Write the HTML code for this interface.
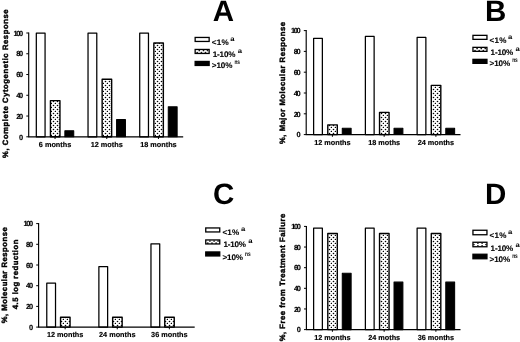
<!DOCTYPE html>
<html><head><meta charset="utf-8"><title>Figure</title>
<style>
html,body{margin:0;padding:0;background:#fff;}
body{width:520px;height:342px;overflow:hidden;}
svg{display:block;filter:grayscale(1);text-rendering:geometricPrecision;font-family:"Liberation Sans",sans-serif;font-weight:bold;fill:#000;}
</style></head><body>
<svg width="520" height="342" viewBox="0 0 520 342">
<defs>
<pattern id="dots" width="4" height="4" patternUnits="userSpaceOnUse">
<rect width="4" height="4" fill="#fff"/>
<circle cx="1.5" cy="1.5" r="0.8" fill="#000"/>
<circle cx="3.5" cy="3.5" r="0.8" fill="#000"/>
</pattern>
<pattern id="ldots" width="4" height="4" patternUnits="userSpaceOnUse">
<rect width="4" height="4" fill="#fff"/>
<circle cx="2" cy="2" r="0.9" fill="#777"/>
</pattern>
</defs>
<rect width="520" height="342" fill="#fff"/>
<rect x="36.32" y="33.08" width="8.75" height="103.72" fill="#fff" stroke="#000" stroke-width="1.25" stroke-linejoin="round"/>
<rect x="50.45" y="100.60" width="9.50" height="36.20" fill="url(#dots)" stroke="#000" stroke-width="1.4" stroke-linejoin="round"/>
<rect x="64.88" y="130.74" width="8.85" height="6.06" fill="#000" stroke="#000" stroke-width="1.05" stroke-linejoin="round"/>
<rect x="88.03" y="33.08" width="8.75" height="103.72" fill="#fff" stroke="#000" stroke-width="1.25" stroke-linejoin="round"/>
<rect x="102.15" y="79.32" width="9.50" height="57.48" fill="url(#dots)" stroke="#000" stroke-width="1.4" stroke-linejoin="round"/>
<rect x="116.58" y="119.63" width="8.85" height="17.17" fill="#000" stroke="#000" stroke-width="1.05" stroke-linejoin="round"/>
<rect x="139.72" y="33.08" width="8.75" height="103.72" fill="#fff" stroke="#000" stroke-width="1.25" stroke-linejoin="round"/>
<rect x="153.85" y="42.99" width="9.50" height="93.81" fill="url(#dots)" stroke="#000" stroke-width="1.4" stroke-linejoin="round"/>
<rect x="168.28" y="106.86" width="8.85" height="29.94" fill="#000" stroke="#000" stroke-width="1.05" stroke-linejoin="round"/>
<path d="M28.70 32.50V137.30M28.20 136.80H183.20" stroke="#000" stroke-width="1.15" fill="none"/>
<path d="M26.30 33.00H28.70" stroke="#000" stroke-width="1"/>
<text x="13.50" y="35.70" font-size="7.4" textLength="9.6" lengthAdjust="spacing" stroke="#000" stroke-width="0.15">100</text>
<path d="M26.30 53.76H28.70" stroke="#000" stroke-width="1"/>
<text x="16.20" y="56.46" font-size="7.4" textLength="6.9" lengthAdjust="spacing" stroke="#000" stroke-width="0.15">80</text>
<path d="M26.30 74.52H28.70" stroke="#000" stroke-width="1"/>
<text x="16.20" y="77.22" font-size="7.4" textLength="6.9" lengthAdjust="spacing" stroke="#000" stroke-width="0.15">60</text>
<path d="M26.30 95.28H28.70" stroke="#000" stroke-width="1"/>
<text x="16.20" y="97.98" font-size="7.4" textLength="6.9" lengthAdjust="spacing" stroke="#000" stroke-width="0.15">40</text>
<path d="M26.30 116.04H28.70" stroke="#000" stroke-width="1"/>
<text x="16.20" y="118.74" font-size="7.4" textLength="6.9" lengthAdjust="spacing" stroke="#000" stroke-width="0.15">20</text>
<path d="M26.30 136.80H28.70" stroke="#000" stroke-width="1"/>
<text x="19.00" y="139.50" font-size="7.4" textLength="4.1" lengthAdjust="spacing" stroke="#000" stroke-width="0.15">0</text>
<path d="M55.05 136.80V139.00" stroke="#000" stroke-width="1"/>
<text x="55.05" y="147.00" text-anchor="middle" font-size="7.3" stroke="#000" stroke-width="0.15">6 months</text>
<path d="M106.75 136.80V139.00" stroke="#000" stroke-width="1"/>
<text x="106.75" y="147.00" text-anchor="middle" font-size="7.3" stroke="#000" stroke-width="0.15">12 moths</text>
<path d="M158.45 136.80V139.00" stroke="#000" stroke-width="1"/>
<text x="158.45" y="147.00" text-anchor="middle" font-size="7.3" stroke="#000" stroke-width="0.15">18 months</text>
<text transform="translate(7.90 157.95) rotate(-90)" font-size="7.7" textLength="148.5" lengthAdjust="spacing" stroke="#000" stroke-width="0.4">%, Complete Cytogenetic Response</text>
<text x="223.45" y="21.2" font-size="29.5" text-anchor="middle">A</text>
<rect x="195.15" y="37.45" width="14.0" height="4.0" fill="#fff" stroke="#000" stroke-width="1.3"/>
<text x="211.80" y="45.00" font-size="8.1" textLength="16.8" lengthAdjust="spacing" stroke="#000" stroke-width="0.1">&lt;1%</text>
<text x="230.30" y="41.00" font-size="6.6" textLength="4.3" lengthAdjust="spacingAndGlyphs">a</text>
<rect x="195.15" y="49.45" width="14.0" height="4.0" fill="#fff" stroke="#000" stroke-width="1.3"/>
<circle cx="199.30" cy="50.50" r="0.85" fill="#111"/>
<circle cx="203.50" cy="50.50" r="0.85" fill="#111"/>
<circle cx="207.50" cy="50.50" r="0.85" fill="#111"/>
<circle cx="197.20" cy="52.70" r="0.85" fill="#111"/>
<circle cx="201.40" cy="52.70" r="0.85" fill="#111"/>
<circle cx="205.50" cy="52.70" r="0.85" fill="#111"/>
<text x="212.80" y="57.00" font-size="8.1" textLength="22.6" lengthAdjust="spacing" stroke="#000" stroke-width="0.1">1-10%</text>
<text x="237.70" y="53.00" font-size="6.6" textLength="4.3" lengthAdjust="spacingAndGlyphs">a</text>
<rect x="195.15" y="61.45" width="14.0" height="4.0" fill="#000" stroke="#000" stroke-width="1.3"/>
<text x="211.80" y="68.30" font-size="8.1" textLength="20.6" lengthAdjust="spacing" stroke="#000" stroke-width="0.1">&gt;10%</text>
<text x="234.40" y="64.30" font-size="6.6" textLength="5.6" lengthAdjust="spacingAndGlyphs">ns</text>
<rect x="313.62" y="38.45" width="8.75" height="96.14" fill="#fff" stroke="#000" stroke-width="1.25" stroke-linejoin="round"/>
<rect x="327.80" y="124.85" width="9.50" height="9.75" fill="url(#dots)" stroke="#000" stroke-width="1.4" stroke-linejoin="round"/>
<rect x="342.28" y="128.31" width="8.85" height="6.29" fill="#000" stroke="#000" stroke-width="1.05" stroke-linejoin="round"/>
<rect x="365.38" y="36.38" width="8.75" height="98.22" fill="#fff" stroke="#000" stroke-width="1.25" stroke-linejoin="round"/>
<rect x="379.55" y="112.37" width="9.50" height="22.23" fill="url(#dots)" stroke="#000" stroke-width="1.4" stroke-linejoin="round"/>
<rect x="394.03" y="128.31" width="8.85" height="6.29" fill="#000" stroke="#000" stroke-width="1.05" stroke-linejoin="round"/>
<rect x="417.12" y="37.41" width="8.75" height="97.19" fill="#fff" stroke="#000" stroke-width="1.25" stroke-linejoin="round"/>
<rect x="431.30" y="85.33" width="9.50" height="49.27" fill="url(#dots)" stroke="#000" stroke-width="1.4" stroke-linejoin="round"/>
<rect x="445.78" y="128.31" width="8.85" height="6.29" fill="#000" stroke="#000" stroke-width="1.05" stroke-linejoin="round"/>
<path d="M306.20 30.10V135.10M305.70 134.60H460.50" stroke="#000" stroke-width="1.15" fill="none"/>
<path d="M303.80 30.60H306.20" stroke="#000" stroke-width="1"/>
<text x="291.00" y="33.30" font-size="7.4" textLength="9.6" lengthAdjust="spacing" stroke="#000" stroke-width="0.15">100</text>
<path d="M303.80 51.40H306.20" stroke="#000" stroke-width="1"/>
<text x="293.70" y="54.10" font-size="7.4" textLength="6.9" lengthAdjust="spacing" stroke="#000" stroke-width="0.15">80</text>
<path d="M303.80 72.20H306.20" stroke="#000" stroke-width="1"/>
<text x="293.70" y="74.90" font-size="7.4" textLength="6.9" lengthAdjust="spacing" stroke="#000" stroke-width="0.15">60</text>
<path d="M303.80 93.00H306.20" stroke="#000" stroke-width="1"/>
<text x="293.70" y="95.70" font-size="7.4" textLength="6.9" lengthAdjust="spacing" stroke="#000" stroke-width="0.15">40</text>
<path d="M303.80 113.80H306.20" stroke="#000" stroke-width="1"/>
<text x="293.70" y="116.50" font-size="7.4" textLength="6.9" lengthAdjust="spacing" stroke="#000" stroke-width="0.15">20</text>
<path d="M303.80 134.60H306.20" stroke="#000" stroke-width="1"/>
<text x="296.50" y="137.30" font-size="7.4" textLength="4.1" lengthAdjust="spacing" stroke="#000" stroke-width="0.15">0</text>
<path d="M332.40 134.60V136.80" stroke="#000" stroke-width="1"/>
<text x="332.40" y="144.80" text-anchor="middle" font-size="7.3" stroke="#000" stroke-width="0.15">12 months</text>
<path d="M384.15 134.60V136.80" stroke="#000" stroke-width="1"/>
<text x="384.15" y="144.80" text-anchor="middle" font-size="7.3" stroke="#000" stroke-width="0.15">18 moths</text>
<path d="M435.90 134.60V136.80" stroke="#000" stroke-width="1"/>
<text x="435.90" y="144.80" text-anchor="middle" font-size="7.3" stroke="#000" stroke-width="0.15">24 months</text>
<text transform="translate(285.20 144.00) rotate(-90)" font-size="7.7" textLength="122" lengthAdjust="spacing" stroke="#000" stroke-width="0.4">%, Major Molecular Response</text>
<text x="495.7" y="21.2" font-size="29.5" text-anchor="middle">B</text>
<rect x="472.95" y="35.35" width="14.0" height="4.0" fill="#fff" stroke="#000" stroke-width="1.3"/>
<text x="489.60" y="42.60" font-size="8.1" textLength="16.8" lengthAdjust="spacing" stroke="#000" stroke-width="0.1">&lt;1%</text>
<text x="508.10" y="38.60" font-size="6.6" textLength="4.3" lengthAdjust="spacingAndGlyphs">a</text>
<rect x="472.95" y="47.35" width="14.0" height="4.0" fill="#fff" stroke="#000" stroke-width="1.3"/>
<circle cx="477.10" cy="48.40" r="0.85" fill="#111"/>
<circle cx="481.30" cy="48.40" r="0.85" fill="#111"/>
<circle cx="485.30" cy="48.40" r="0.85" fill="#111"/>
<circle cx="475.00" cy="50.60" r="0.85" fill="#111"/>
<circle cx="479.20" cy="50.60" r="0.85" fill="#111"/>
<circle cx="483.30" cy="50.60" r="0.85" fill="#111"/>
<text x="490.60" y="54.90" font-size="8.1" textLength="22.6" lengthAdjust="spacing" stroke="#000" stroke-width="0.1">1-10%</text>
<text x="515.50" y="50.90" font-size="6.6" textLength="4.3" lengthAdjust="spacingAndGlyphs">a</text>
<rect x="472.95" y="59.35" width="14.0" height="4.0" fill="#000" stroke="#000" stroke-width="1.3"/>
<text x="489.60" y="66.30" font-size="8.1" textLength="20.6" lengthAdjust="spacing" stroke="#000" stroke-width="0.1">&gt;10%</text>
<text x="512.20" y="62.30" font-size="6.6" textLength="5.6" lengthAdjust="spacingAndGlyphs">ns</text>
<rect x="46.77" y="283.17" width="8.75" height="43.93" fill="#fff" stroke="#000" stroke-width="1.25" stroke-linejoin="round"/>
<rect x="60.55" y="317.19" width="9.50" height="9.91" fill="url(#dots)" stroke="#000" stroke-width="1.4" stroke-linejoin="round"/>
<rect x="98.88" y="266.61" width="8.75" height="60.49" fill="#fff" stroke="#000" stroke-width="1.25" stroke-linejoin="round"/>
<rect x="112.65" y="317.19" width="9.50" height="9.91" fill="url(#dots)" stroke="#000" stroke-width="1.4" stroke-linejoin="round"/>
<rect x="150.97" y="243.84" width="8.75" height="83.26" fill="#fff" stroke="#000" stroke-width="1.25" stroke-linejoin="round"/>
<rect x="164.75" y="317.19" width="9.50" height="9.91" fill="url(#dots)" stroke="#000" stroke-width="1.4" stroke-linejoin="round"/>
<path d="M38.60 223.10V327.60M38.10 327.10H194.70" stroke="#000" stroke-width="1.15" fill="none"/>
<path d="M36.20 223.60H38.60" stroke="#000" stroke-width="1"/>
<text x="23.40" y="226.30" font-size="7.4" textLength="9.6" lengthAdjust="spacing" stroke="#000" stroke-width="0.15">100</text>
<path d="M36.20 244.30H38.60" stroke="#000" stroke-width="1"/>
<text x="26.10" y="247.00" font-size="7.4" textLength="6.9" lengthAdjust="spacing" stroke="#000" stroke-width="0.15">80</text>
<path d="M36.20 265.00H38.60" stroke="#000" stroke-width="1"/>
<text x="26.10" y="267.70" font-size="7.4" textLength="6.9" lengthAdjust="spacing" stroke="#000" stroke-width="0.15">60</text>
<path d="M36.20 285.70H38.60" stroke="#000" stroke-width="1"/>
<text x="26.10" y="288.40" font-size="7.4" textLength="6.9" lengthAdjust="spacing" stroke="#000" stroke-width="0.15">40</text>
<path d="M36.20 306.40H38.60" stroke="#000" stroke-width="1"/>
<text x="26.10" y="309.10" font-size="7.4" textLength="6.9" lengthAdjust="spacing" stroke="#000" stroke-width="0.15">20</text>
<path d="M36.20 327.10H38.60" stroke="#000" stroke-width="1"/>
<text x="28.90" y="329.80" font-size="7.4" textLength="4.1" lengthAdjust="spacing" stroke="#000" stroke-width="0.15">0</text>
<path d="M65.15 327.10V329.30" stroke="#000" stroke-width="1"/>
<text x="65.15" y="337.30" text-anchor="middle" font-size="7.3" stroke="#000" stroke-width="0.15">12 months</text>
<path d="M117.25 327.10V329.30" stroke="#000" stroke-width="1"/>
<text x="117.25" y="337.30" text-anchor="middle" font-size="7.3" stroke="#000" stroke-width="0.15">24 months</text>
<path d="M169.35 327.10V329.30" stroke="#000" stroke-width="1"/>
<text x="169.35" y="337.30" text-anchor="middle" font-size="7.3" stroke="#000" stroke-width="0.15">36 months</text>
<text transform="translate(7.10 323.30) rotate(-90)" font-size="7.7" textLength="96" lengthAdjust="spacing" stroke="#000" stroke-width="0.4">%, Molecular Response</text>
<text transform="translate(17.80 309.20) rotate(-90)" font-size="7.7" textLength="69.6" lengthAdjust="spacing" stroke="#000" stroke-width="0.4">4.5 log reduction</text>
<text x="223.7" y="203.6" font-size="29.5" text-anchor="middle">C</text>
<rect x="205.75" y="227.95" width="14.0" height="4.0" fill="#fff" stroke="#000" stroke-width="1.3"/>
<text x="222.40" y="235.40" font-size="8.1" textLength="16.8" lengthAdjust="spacing" stroke="#000" stroke-width="0.1">&lt;1%</text>
<text x="240.90" y="231.40" font-size="6.6" textLength="4.3" lengthAdjust="spacingAndGlyphs">a</text>
<rect x="205.75" y="239.95" width="14.0" height="4.0" fill="#fff" stroke="#000" stroke-width="1.3"/>
<circle cx="209.90" cy="241.00" r="0.85" fill="#111"/>
<circle cx="214.10" cy="241.00" r="0.85" fill="#111"/>
<circle cx="218.10" cy="241.00" r="0.85" fill="#111"/>
<circle cx="207.80" cy="243.20" r="0.85" fill="#111"/>
<circle cx="212.00" cy="243.20" r="0.85" fill="#111"/>
<circle cx="216.10" cy="243.20" r="0.85" fill="#111"/>
<text x="223.40" y="247.40" font-size="8.1" textLength="22.6" lengthAdjust="spacing" stroke="#000" stroke-width="0.1">1-10%</text>
<text x="248.30" y="243.40" font-size="6.6" textLength="4.3" lengthAdjust="spacingAndGlyphs">a</text>
<rect x="205.75" y="251.95" width="14.0" height="4.0" fill="#000" stroke="#000" stroke-width="1.3"/>
<text x="222.40" y="259.50" font-size="8.1" textLength="20.6" lengthAdjust="spacing" stroke="#000" stroke-width="0.1">&gt;10%</text>
<text x="245.00" y="255.50" font-size="6.6" textLength="5.6" lengthAdjust="spacingAndGlyphs">ns</text>
<rect x="313.62" y="228.01" width="8.75" height="101.59" fill="#fff" stroke="#000" stroke-width="1.25" stroke-linejoin="round"/>
<rect x="327.80" y="233.55" width="9.50" height="96.05" fill="url(#dots)" stroke="#000" stroke-width="1.4" stroke-linejoin="round"/>
<rect x="342.28" y="273.31" width="8.85" height="56.29" fill="#000" stroke="#000" stroke-width="1.05" stroke-linejoin="round"/>
<rect x="365.38" y="228.01" width="8.75" height="101.59" fill="#fff" stroke="#000" stroke-width="1.25" stroke-linejoin="round"/>
<rect x="379.55" y="233.55" width="9.50" height="96.05" fill="url(#dots)" stroke="#000" stroke-width="1.4" stroke-linejoin="round"/>
<rect x="394.03" y="282.09" width="8.85" height="47.51" fill="#000" stroke="#000" stroke-width="1.05" stroke-linejoin="round"/>
<rect x="417.12" y="228.01" width="8.75" height="101.59" fill="#fff" stroke="#000" stroke-width="1.25" stroke-linejoin="round"/>
<rect x="431.30" y="233.55" width="9.50" height="96.05" fill="url(#dots)" stroke="#000" stroke-width="1.4" stroke-linejoin="round"/>
<rect x="445.78" y="282.09" width="8.85" height="47.51" fill="#000" stroke="#000" stroke-width="1.05" stroke-linejoin="round"/>
<path d="M306.40 225.90V330.10M305.90 329.60H460.50" stroke="#000" stroke-width="1.15" fill="none"/>
<path d="M304.00 226.40H306.40" stroke="#000" stroke-width="1"/>
<text x="291.20" y="229.10" font-size="7.4" textLength="9.6" lengthAdjust="spacing" stroke="#000" stroke-width="0.15">100</text>
<path d="M304.00 247.04H306.40" stroke="#000" stroke-width="1"/>
<text x="293.90" y="249.74" font-size="7.4" textLength="6.9" lengthAdjust="spacing" stroke="#000" stroke-width="0.15">80</text>
<path d="M304.00 267.68H306.40" stroke="#000" stroke-width="1"/>
<text x="293.90" y="270.38" font-size="7.4" textLength="6.9" lengthAdjust="spacing" stroke="#000" stroke-width="0.15">60</text>
<path d="M304.00 288.32H306.40" stroke="#000" stroke-width="1"/>
<text x="293.90" y="291.02" font-size="7.4" textLength="6.9" lengthAdjust="spacing" stroke="#000" stroke-width="0.15">40</text>
<path d="M304.00 308.96H306.40" stroke="#000" stroke-width="1"/>
<text x="293.90" y="311.66" font-size="7.4" textLength="6.9" lengthAdjust="spacing" stroke="#000" stroke-width="0.15">20</text>
<path d="M304.00 329.60H306.40" stroke="#000" stroke-width="1"/>
<text x="296.70" y="332.30" font-size="7.4" textLength="4.1" lengthAdjust="spacing" stroke="#000" stroke-width="0.15">0</text>
<path d="M332.40 329.60V331.80" stroke="#000" stroke-width="1"/>
<text x="332.40" y="339.80" text-anchor="middle" font-size="7.3" stroke="#000" stroke-width="0.15">12 months</text>
<path d="M384.15 329.60V331.80" stroke="#000" stroke-width="1"/>
<text x="384.15" y="339.80" text-anchor="middle" font-size="7.3" stroke="#000" stroke-width="0.15">24 moths</text>
<path d="M435.90 329.60V331.80" stroke="#000" stroke-width="1"/>
<text x="435.90" y="339.80" text-anchor="middle" font-size="7.3" stroke="#000" stroke-width="0.15">36 months</text>
<text transform="translate(285.40 341.25) rotate(-90)" font-size="7.7" textLength="127.5" lengthAdjust="spacing" stroke="#000" stroke-width="0.4">%, Free from Treatment Failure</text>
<text x="495.7" y="203.5" font-size="29.5" text-anchor="middle">D</text>
<rect x="472.95" y="230.25" width="14.0" height="4.5" fill="#fff" stroke="#000" stroke-width="1.3"/>
<text x="489.60" y="238.40" font-size="8.1" textLength="16.8" lengthAdjust="spacing" stroke="#000" stroke-width="0.1">&lt;1%</text>
<text x="508.10" y="234.40" font-size="6.6" textLength="4.3" lengthAdjust="spacingAndGlyphs">a</text>
<rect x="472.95" y="242.25" width="14.0" height="4.5" fill="#fff" stroke="#000" stroke-width="1.3"/>
<circle cx="477.90" cy="243.10" r="0.85" fill="#111"/>
<circle cx="482.10" cy="243.10" r="0.85" fill="#111"/>
<circle cx="477.90" cy="245.90" r="0.85" fill="#111"/>
<circle cx="482.10" cy="245.90" r="0.85" fill="#111"/>
<circle cx="473.90" cy="244.50" r="0.85" fill="#111"/>
<circle cx="486.00" cy="244.50" r="0.85" fill="#111"/>
<text x="490.60" y="250.80" font-size="8.1" textLength="22.6" lengthAdjust="spacing" stroke="#000" stroke-width="0.1">1-10%</text>
<text x="515.50" y="246.80" font-size="6.6" textLength="4.3" lengthAdjust="spacingAndGlyphs">a</text>
<rect x="472.95" y="254.25" width="14.0" height="4.5" fill="#000" stroke="#000" stroke-width="1.3"/>
<text x="489.60" y="262.40" font-size="8.1" textLength="20.6" lengthAdjust="spacing" stroke="#000" stroke-width="0.1">&gt;10%</text>
<text x="512.20" y="258.40" font-size="6.6" textLength="5.6" lengthAdjust="spacingAndGlyphs">ns</text>
</svg>
</body></html>
